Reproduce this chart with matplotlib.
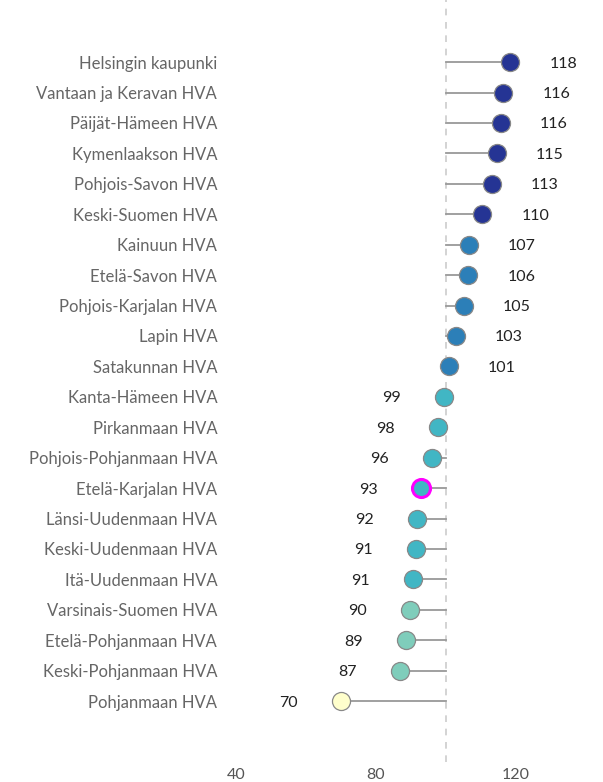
import matplotlib.pyplot as plt

# alueet ylhäältä alas
areas = ['Helsingin kaupunki', 'Vantaan ja Keravan HVA', 'Päijät-Hämeen HVA',
         'Kymenlaakson HVA', 'Pohjois-Savon HVA', 'Keski-Suomen HVA',
         'Kainuun HVA', 'Etelä-Savon HVA', 'Pohjois-Karjalan HVA', 'Lapin HVA',
         'Satakunnan HVA', 'Kanta-Hämeen HVA', 'Pirkanmaan HVA',
         'Pohjois-Pohjanmaan HVA', 'Etelä-Karjalan HVA', 'Länsi-Uudenmaan HVA',
         'Keski-Uudenmaan HVA', 'Itä-Uudenmaan HVA', 'Varsinais-Suomen HVA',
         'Etelä-Pohjanmaan HVA', 'Keski-Pohjanmaan HVA', 'Pohjanmaan HVA']
values = [118.4, 116.4, 115.7, 114.6, 113.1, 110.4, 106.6, 106.4, 105.1, 102.9,
          100.9, 99.4, 97.6, 96.0, 92.9, 91.7, 91.4, 90.6, 89.7, 88.6, 86.9, 70.0]
labels = ['118', '116', '116', '115', '113', '110', '107', '106', '105', '103',
          '101', '99', '98', '96', '93', '92', '91', '91', '90', '89', '87', '70']
highlight = 'Etelä-Karjalan HVA'
baseline = 100
xticks = [40, 80, 120]

# YlGnBu-luokat
def color_for(v):
    if v >= 110:
        return '#253494'
    if v >= 100:
        return '#2c7fb8'
    if v >= 90.5:
        return '#41b6c4'
    if v >= 80:
        return '#7fcdbb'
    return '#ffffcc'

plt.rcParams['font.family'] = ['Lato', 'DejaVu Sans']

fig = plt.figure(figsize=(6.03, 7.82), dpi=100)
ax = fig.add_axes([220 / 603, 20 / 782, 383 / 603, 762 / 782])

ax.axvline(baseline, color='#cccccc', lw=1.2, ls=(0, (4, 4)), zorder=0)

for i, (name, v, lab) in enumerate(zip(areas, values, labels)):
    ax.plot([baseline, v], [i, i], color='#999999', lw=1.3, zorder=1)
    edge = '#ff00ff' if name == highlight else '#888888'
    ew = 2.2 if name == highlight else 0.9
    ax.plot(v, i, 'o', ms=13, mfc=color_for(v), mec=edge, mew=ew, zorder=2)
    if v >= baseline:
        ax.annotate(lab, (v, i), xytext=(39, 0), textcoords='offset pixels',
                    ha='left', va='center_baseline', fontsize=11.5, color='#222222')
    else:
        ax.annotate(lab, (v, i), xytext=(-43, 0), textcoords='offset pixels',
                    ha='right', va='center_baseline', fontsize=11.5, color='#222222')

ax.set_yticks(range(len(areas)))
ax.set_yticklabels(areas, fontsize=12, color='#666666')
ax.set_xticks(xticks)
ax.set_xticklabels([str(t) for t in xticks], fontsize=11.5, color='#555555')
ax.tick_params(length=0, pad=2)
ax.tick_params(axis='x', pad=4)
ax.set_xlim(35.4, 144.9)
ax.set_ylim(23.0, -2.04)
for s in ax.spines.values():
    s.set_visible(False)

fig.savefig('out.png', dpi=100)
